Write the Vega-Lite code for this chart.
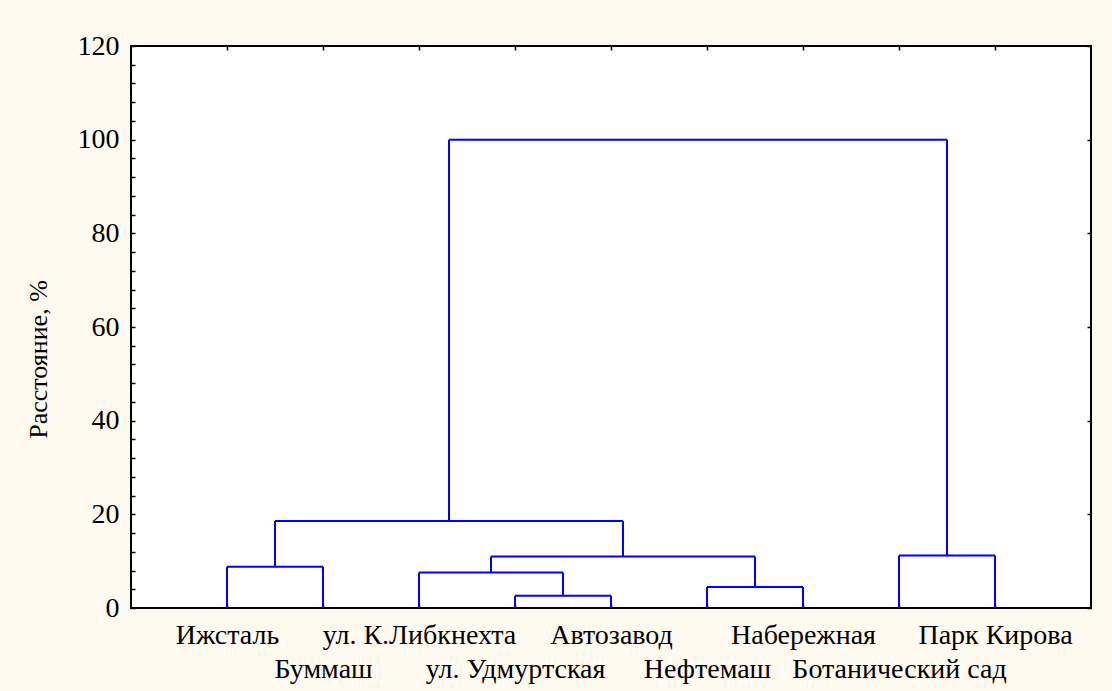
{
  "$schema": "https://vega.github.io/schema/vega-lite/v6.json",
  "autosize": {"type": "none"},
  "padding": {"left": 131, "top": 46, "right": 21, "bottom": 83},
  "width": 960,
  "height": 562,
  "background": "#FFFAF0",
  "config": {
    "view": {"fill": "white", "stroke": "black", "strokeWidth": 2},
    "font": "Liberation Serif",
    "axis": {
      "labelFont": "Liberation Serif",
      "titleFont": "Liberation Serif",
      "labelColor": "black",
      "titleColor": "black",
      "tickColor": "black",
      "tickWidth": 1.5,
      "tickSize": -4,
      "domain": false,
      "grid": false,
      "labelFontSize": 28,
      "titleFontSize": 26,
      "titleFontWeight": "normal"
    }
  },
  "datasets": {
    "segments": [
      {"x": 1, "x2": 1, "y": 0, "y2": 8.8},
      {"x": 2, "x2": 2, "y": 0, "y2": 8.8},
      {"x": 1, "x2": 2, "y": 8.8, "y2": 8.8},
      {"x": 4, "x2": 4, "y": 0, "y2": 2.6},
      {"x": 5, "x2": 5, "y": 0, "y2": 2.6},
      {"x": 4, "x2": 5, "y": 2.6, "y2": 2.6},
      {"x": 3, "x2": 3, "y": 0, "y2": 7.6},
      {"x": 4.5, "x2": 4.5, "y": 2.6, "y2": 7.6},
      {"x": 3, "x2": 4.5, "y": 7.6, "y2": 7.6},
      {"x": 6, "x2": 6, "y": 0, "y2": 4.5},
      {"x": 7, "x2": 7, "y": 0, "y2": 4.5},
      {"x": 6, "x2": 7, "y": 4.5, "y2": 4.5},
      {"x": 3.75, "x2": 3.75, "y": 7.6, "y2": 11.0},
      {"x": 6.5, "x2": 6.5, "y": 4.5, "y2": 11.0},
      {"x": 3.75, "x2": 6.5, "y": 11.0, "y2": 11.0},
      {"x": 1.5, "x2": 1.5, "y": 8.8, "y2": 18.6},
      {"x": 5.125, "x2": 5.125, "y": 11.0, "y2": 18.6},
      {"x": 1.5, "x2": 5.125, "y": 18.6, "y2": 18.6},
      {"x": 8, "x2": 8, "y": 0, "y2": 11.2},
      {"x": 9, "x2": 9, "y": 0, "y2": 11.2},
      {"x": 8, "x2": 9, "y": 11.2, "y2": 11.2},
      {"x": 3.3125, "x2": 3.3125, "y": 18.6, "y2": 100},
      {"x": 8.5, "x2": 8.5, "y": 11.2, "y2": 100},
      {"x": 3.3125, "x2": 8.5, "y": 100, "y2": 100}
    ],
    "leaves": [
      {"name": "Ижсталь", "pos": 1},
      {"name": "Буммаш", "pos": 2},
      {"name": "ул. К.Либкнехта", "pos": 3},
      {"name": "ул. Удмуртская", "pos": 4},
      {"name": "Автозавод", "pos": 5},
      {"name": "Нефтемаш", "pos": 6},
      {"name": "Набережная", "pos": 7},
      {"name": "Ботанический сад", "pos": 8},
      {"name": "Парк Кирова", "pos": 9}
    ]
  },
  "layer": [
    {
      "data": {"name": "segments"},
      "mark": {"type": "rule", "color": "#0000FF", "strokeWidth": 2},
      "encoding": {
        "x": {
          "field": "x", "type": "quantitative",
          "scale": {"domain": [0, 10], "nice": false, "zero": false},
          "axis": {"orient": "top", "values": [1, 2, 3, 4, 5, 6, 7, 8, 9], "labels": false, "title": null}
        },
        "x2": {"field": "x2"},
        "y": {
          "field": "y", "type": "quantitative",
          "scale": {"domain": [0, 120], "nice": false},
          "axis": {
            "orient": "left",
            "values": [0, 4, 8, 12, 16, 20, 24, 28, 32, 36, 40, 44, 48, 52, 56, 60, 64, 68, 72, 76, 80, 84, 88, 92, 96, 100, 104, 108, 112, 116, 120],
            "labelExpr": "datum.value % 20 == 0 ? datum.label : ''",
            "labelPadding": 16,
            "labelOverlap": false,
            "labelFlush": false,
            "labelBound": false,
            "title": "Расстояние, %",
            "titlePadding": 26,
            "titleY": 313
          }
        },
        "y2": {"field": "y2"}
      }
    },
    {
      "data": {"name": "leaves"},
      "mark": {"type": "point", "opacity": 0},
      "encoding": {
        "x": {
          "field": "name", "type": "nominal", "sort": null,
          "scale": {"type": "point", "padding": 1},
          "axis": {
            "orient": "bottom",
            "labelAngle": 0,
            "labelBaseline": "top",
            "labelPadding": 17,
            "labelLineHeight": 34,
            "labelOverlap": false,
            "labelBound": false,
            "labelFlush": false,
            "labelLimit": 0,
            "labelExpr": "round(datum.index * 8) % 2 == 1 ? ['', datum.label] : datum.label",
            "title": null
          }
        },
        "y": {
          "datum": 0, "type": "quantitative",
          "axis": {"orient": "right", "values": [0, 20, 40, 60, 80, 100, 120], "labels": false, "title": null}
        }
      }
    }
  ],
  "resolve": {"scale": {"x": "independent"}, "axis": {"x": "independent", "y": "independent"}}
}
